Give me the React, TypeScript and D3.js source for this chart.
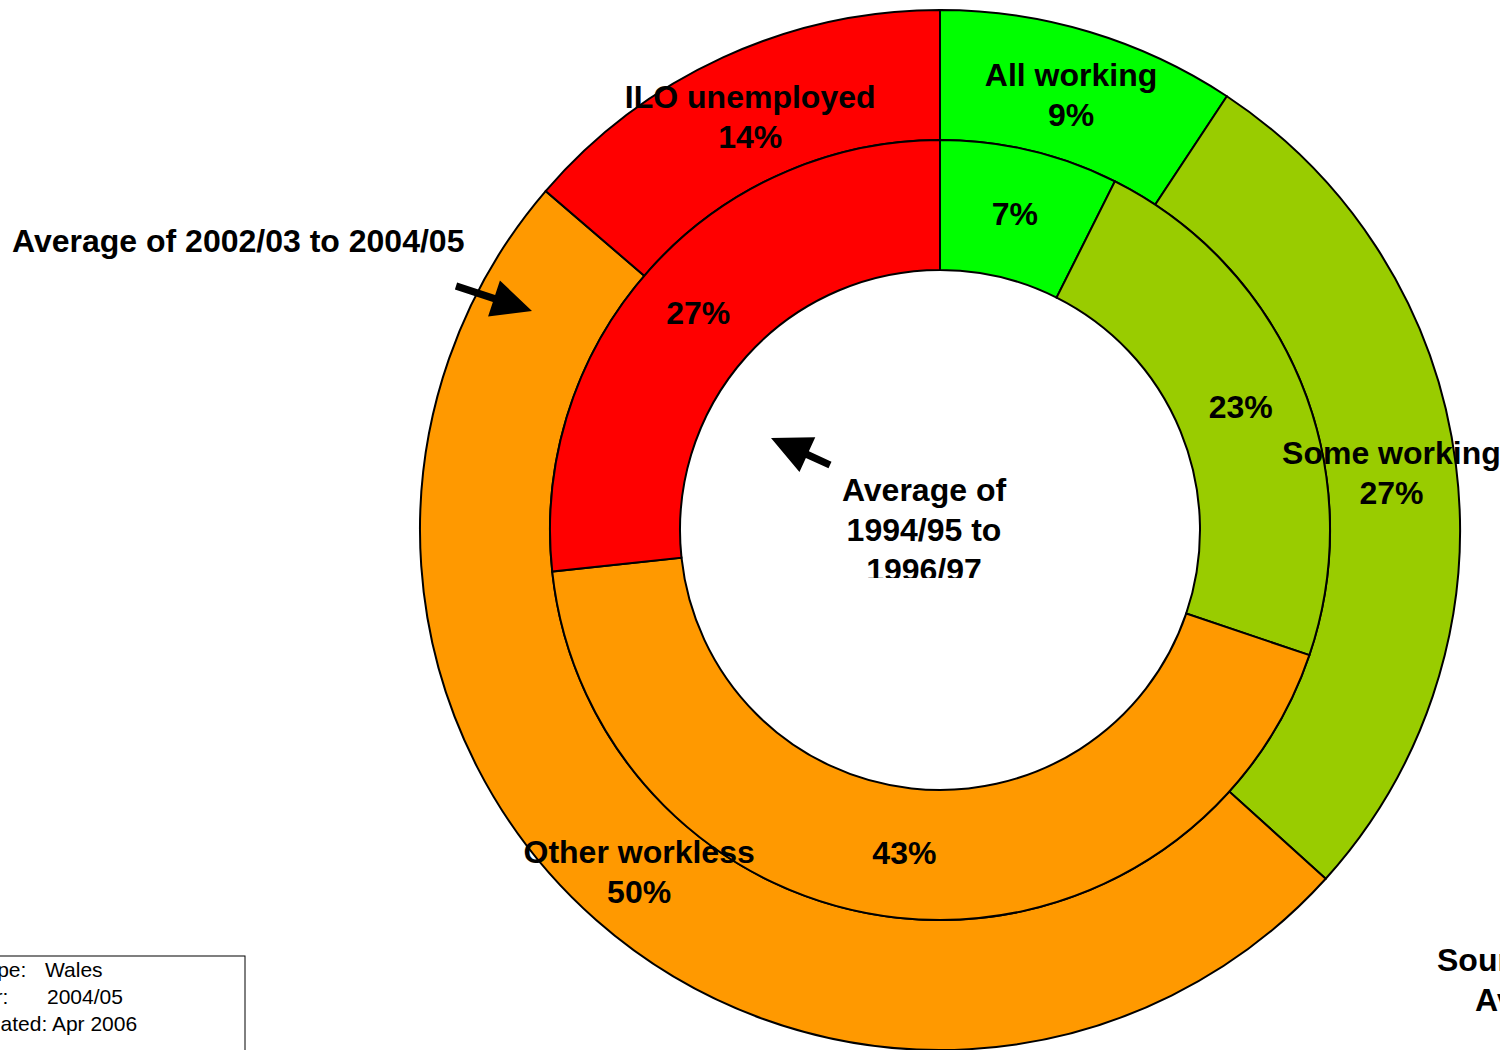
import React from 'react';
import * as d3 from 'd3';

const categories = ['All working', 'Some working', 'Other workless', 'ILO unemployed'];
const recentValues = [9.3, 27.4, 49.6, 13.7]; // average 2002/03 to 2004/05 (outer ring)
const earlierValues = [7.4, 22.8, 43.1, 26.7]; // average 1994/95 to 1996/97 (inner ring)
const colors = ['#00FF00', '#99CC00', '#FF9900', '#FF0000'];

const W = 1500;
const H = 1050;
const cx = 940;
const cy = 530;
const FONT = '"Liberation Sans", Arial, sans-serif';

// thick arrow as polygon from (x1,y1) to tip (x2,y2)
const arrowPath = (x1: number, y1: number, x2: number, y2: number) => {
  const dx = x2 - x1;
  const dy = y2 - y1;
  const len = Math.hypot(dx, dy);
  const ux = dx / len;
  const uy = dy / len;
  const px = -uy;
  const py = ux;
  const shaft = 3.6;
  const headLen = 40;
  const headW = 19;
  const bx = x2 - ux * headLen;
  const by = y2 - uy * headLen;
  const pts = [
    [x1 + px * shaft, y1 + py * shaft],
    [bx + px * shaft, by + py * shaft],
    [bx + px * headW, by + py * headW],
    [x2, y2],
    [bx - px * headW, by - py * headW],
    [bx - px * shaft, by - py * shaft],
    [x1 - px * shaft, y1 - py * shaft],
  ];
  return 'M' + pts.map((p) => p.join(',')).join('L') + 'Z';
};

const App = () => {
  const pie = d3.pie<number>().sort(null).value((d) => d);
  const outerArc = d3.arc<d3.PieArcDatum<number>>().innerRadius(390).outerRadius(520);
  const innerArc = d3.arc<d3.PieArcDatum<number>>().innerRadius(260).outerRadius(390);
  const outerSlices = pie(recentValues);
  const innerSlices = pie(earlierValues);

  return (
    <div style={{ position: 'absolute', left: 0, top: 0 }}>
      <svg width={W} height={H} style={{ display: 'block', fontFamily: FONT }}>
        <defs>
          <clipPath id="centerClip">
            <rect x={0} y={0} width={W} height={578} />
          </clipPath>
        </defs>
        <rect width={W} height={H} fill="#fff" />
        <g transform={`translate(${cx},${cy})`}>
          {outerSlices.map((s, i) => (
            <path key={'o' + i} d={outerArc(s) || ''} fill={colors[i]} stroke="#000" strokeWidth={2} />
          ))}
          {innerSlices.map((s, i) => (
            <path key={'i' + i} d={innerArc(s) || ''} fill={colors[i]} stroke="#000" strokeWidth={2} />
          ))}
          {innerSlices.map((s, i) => {
            const [x, y] = innerArc.centroid(s);
            return (
              <text key={'il' + i} x={x} y={y} dy="0.35em" textAnchor="middle" fontSize={32} fontWeight="bold">
                {Math.round(earlierValues[i])}%
              </text>
            );
          })}
          {outerSlices.map((s, i) => {
            const [x, y] = outerArc.centroid(s);
            return (
              <text key={'ol' + i} x={x} y={y} textAnchor="middle" fontSize={32} fontWeight="bold">
                <tspan x={x} dy="-0.27em">{categories[i]}</tspan>
                <tspan x={x} dy="1.25em">{Math.round(recentValues[i])}%</tspan>
              </text>
            );
          })}
        </g>

        <text x={12} y={252} fontSize={32} fontWeight="bold">Average of 2002/03 to 2004/05</text>
        <path d={arrowPath(456, 286, 532, 311)} fill="#000" />

        <g clipPath="url(#centerClip)">
          <text x={924} textAnchor="middle" fontSize={32} fontWeight="bold">
            <tspan x={924} y={501}>Average of</tspan>
            <tspan x={924} y={541}>1994/95 to</tspan>
            <tspan x={924} y={581}>1996/97</tspan>
          </text>
        </g>
        <path d={arrowPath(830, 465, 771, 438)} fill="#000" />

        <rect x={-20} y={956} width={265} height={120} fill="#fff" stroke="#000" strokeWidth={1} />
        <g fontSize={21}>
          <text x={-39} y={977}>Scope:</text>
          <text x={45} y={977}>Wales</text>
          <text x={-40} y={1004}>Year:</text>
          <text x={47} y={1004}>2004/05</text>
          <text x={-38} y={1031}>Updated: Apr 2006</text>
        </g>

        <text x={1437} y={971} fontSize={32} fontWeight="bold">Source: HBAI</text>
        <text x={1475} y={1011} fontSize={32} fontWeight="bold">Average</text>
      </svg>
    </div>
  );
};

export default App;
